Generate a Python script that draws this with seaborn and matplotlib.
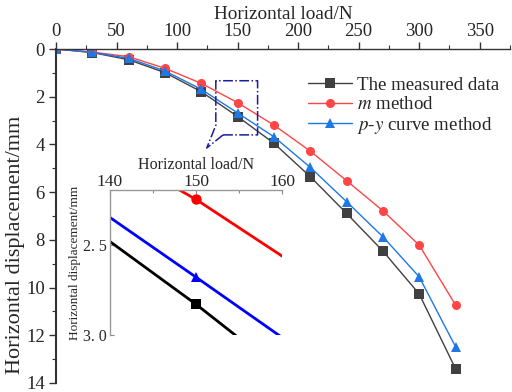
import numpy as np
import pandas as pd
import matplotlib
matplotlib.use("Agg")
import matplotlib.pyplot as plt
import seaborn as sns
from matplotlib.ticker import MultipleLocator

sns.set_theme(style="ticks")
plt.rcParams['font.family'] = ['Liberation Serif', 'DejaVu Serif']
plt.rcParams['mathtext.fontset'] = 'stix'

load = [0, 30, 60, 90, 120, 150, 180, 210, 240, 270, 300, 330]
measured = [0, 0.15, 0.45, 0.99, 1.79, 2.83, 3.95, 5.35, 6.89, 8.47, 10.27, 13.4]
m_method = [0, 0.13, 0.32, 0.81, 1.44, 2.25, 3.19, 4.28, 5.52, 6.78, 8.22, 10.73]
py_method = [0, 0.14, 0.39, 0.92, 1.69, 2.68, 3.68, 4.96, 6.40, 7.87, 9.55, 12.48]

series_names = ["The measured data", "$m$ method", "$p$-$y$ curve method"]
df = pd.DataFrame({
    "load": load * 3,
    "disp": measured + m_method + py_method,
    "series": [series_names[0]] * len(load) + [series_names[1]] * len(load) + [series_names[2]] * len(load),
})

main_colors = ["#404040", "#ff4545", "#1e78e6"]
inset_colors = ["#000000", "#ff0000", "#0000ff"]
markers = ["s", "o", "^"]

fig = plt.figure(figsize=(5.12, 3.92), dpi=100)
ax = fig.add_axes([0.1094, 0.023, 0.8867, 0.852])

for name, c, mk in zip(series_names, main_colors, markers):
    sub = df[df["series"] == name]
    sns.lineplot(data=sub, x="load", y="disp", ax=ax, color=c, marker=mk,
                 markersize=6.5, markeredgewidth=0, linewidth=1.0, label=name,
                 sort=False, estimator=None)

ax.set_xlim(0, 375)
ax.set_ylim(14, 0)
ax.xaxis.tick_top()
ax.xaxis.set_label_position('top')
ax.xaxis.set_major_locator(MultipleLocator(50))
ax.xaxis.set_minor_locator(MultipleLocator(25))
ax.yaxis.set_major_locator(MultipleLocator(2))
ax.yaxis.set_minor_locator(MultipleLocator(1))
ax.set_xlabel("Horizontal load/N", fontsize=13.8, labelpad=3)
ax.set_ylabel("Horizontal displacement/mm", fontsize=16)
ax.yaxis.set_label_coords(-0.068, 0.413)
ax.tick_params(axis='both', which='major', labelsize=13.5, direction='out', length=5, width=1.0, color='#333333')
ax.tick_params(axis='both', which='minor', direction='out', length=3, width=0.8, color='#333333')
ax.tick_params(axis='x', pad=1.5)
ax.tick_params(axis='y', pad=3)
for s in ['right', 'bottom']:
    ax.spines[s].set_visible(False)
ax.spines['left'].set_linewidth(1.5)
ax.spines['left'].set_color('#333333')
ax.spines['top'].set_linewidth(1.0)
ax.spines['top'].set_color('#333333')

leg = ax.legend(loc='upper left', bbox_to_anchor=(0.535, 0.945), frameon=False,
                fontsize=13.6, handlelength=2.3, handletextpad=0.3, labelspacing=0.1,
                borderpad=0)

# zoom indicator (dash-dot outline)
bx = [138, 166.5, 166.5, 132, 132, 124.5, 138]
by = [3.6, 3.6, 1.33, 1.33, 3.2, 4.15, 3.6]
ax.plot(bx, by, color='#1a1aa0', linestyle='-.', linewidth=1.1)

# inset
axi = fig.add_axes([0.2148, 0.1454, 0.336, 0.3690])
axi.patch.set_alpha(0)
for name, c, mk in zip(series_names, inset_colors, markers):
    sub = df[df["series"] == name]
    sns.lineplot(data=sub, x="load", y="disp", ax=axi, color=c, marker=mk,
                 markersize=7.5, markeredgewidth=0, linewidth=2.0, legend=False,
                 sort=False, estimator=None)
axi.set_xlim(140, 160)
axi.set_ylim(3.0, 2.2)
axi.xaxis.tick_top()
axi.xaxis.set_label_position('top')
axi.set_xticks([140, 150, 160])
axi.set_xticks([145, 155], minor=True)
axi.set_yticks([2.5, 3.0])
axi.set_yticklabels(["2. 5", "3. 0"])
axi.set_xlabel("Horizontal load/N", fontsize=11.5, labelpad=3)
axi.set_ylabel("Horizontal displacement/mm", fontsize=9.5, labelpad=2)
axi.tick_params(axis='both', which='major', labelsize=12.5, direction='in', length=3, width=0.8, color='#888888')
axi.tick_params(axis='both', which='minor', direction='in', length=2, width=0.8, color='#888888')
axi.tick_params(axis='x', pad=0.5)
axi.tick_params(axis='y', pad=2)
axi.tick_params(axis='y', labelsize=11.5)
for s in ['right', 'bottom']:
    axi.spines[s].set_visible(False)
for s in ['left', 'top']:
    axi.spines[s].set_color('#999999')
    axi.spines[s].set_linewidth(1.0)

fig.savefig("out.png", dpi=100)
